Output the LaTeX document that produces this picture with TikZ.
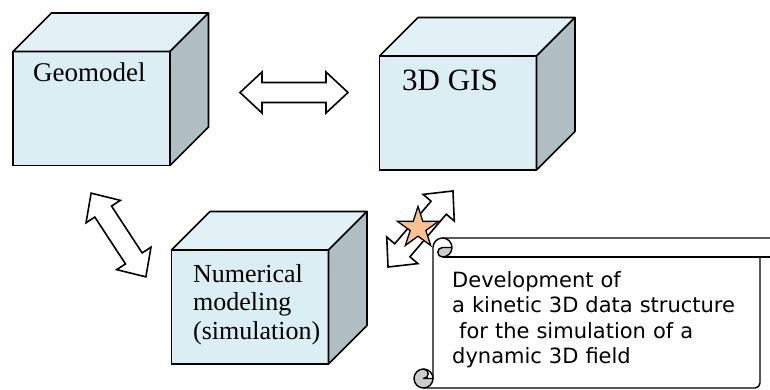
\documentclass[tikz,border=0pt]{standalone}
\usepackage{fontspec}
\setmainfont{Liberation Serif}
\newfontfamily\scrollfont{DejaVu Sans}
\definecolor{cubefront}{HTML}{DAEEF3}
\definecolor{cubetop}{HTML}{E2F1F6}
\definecolor{cubeside}{HTML}{AEBEC2}
\definecolor{curlgrey}{HTML}{CCCCCC}
\definecolor{starfill}{HTML}{FAC090}

% one box drawn as a cube: front face node plus top and side faces
\newcommand\drawcube[3]{%
  \node[cubeface] (#1) at (#2,#3) {};
  \filldraw[cubeedge, fill=cubetop] (#1.north west) -- ++(38.5,-38.5) -- ++(157,0) -- (#1.north east) -- cycle;
  \filldraw[cubeedge, fill=cubeside] (#1.north east) -- ++(38.5,-38.5) -- ++(0,114) -- (#1.south east) -- cycle;
}

\begin{document}
\begin{tikzpicture}[x=1pt, y=-1pt,
  cubeface/.style={draw, line width=1.6pt, fill=cubefront, minimum width=157pt,
    minimum height=114pt, inner sep=0pt, outer sep=0pt},
  cubeedge/.style={draw, line width=1.6pt, line join=round},
  cubetext/.style={anchor=base west, inner sep=0pt, text=black},
  blockarrow/.style={draw, fill=white, line width=1.6pt, line join=miter},
  scrollline/.style={draw, line width=1.4pt, line join=round},
  starstyle/.style={draw, fill=starfill, line width=1.3pt},
  pics/dblarrow/.style={code={%
    \path[blockarrow] (-#1/2,0) -- (-#1/2+22,20.5) -- (-#1/2+22,10) -- (#1/2-22,10)
      -- (#1/2-22,20.5) -- (#1/2,0) -- (#1/2-22,-20.5) -- (#1/2-22,-10)
      -- (-#1/2+22,-10) -- (-#1/2+22,-20.5) -- cycle;}}
]
\useasboundingbox (0,0) rectangle (770,390);
\clip (0,0) rectangle (770,390);

% the three cubes
\drawcube{geo}{91.5}{108.5}
\drawcube{gis}{458}{113}
\drawcube{num}{250}{307}

\node[cubetext, font=\fontsize{27}{29}\selectfont] (geotext) at (33,82) {Geomodel};
\node[cubetext, font=\fontsize{31}{33}\selectfont] (gistext) at (402,91) {3D GIS};
\node[cubetext, text width=130pt, align=left, font=\fontsize{26}{28.5}\selectfont]
  (numtext) at (193,282) {Numerical\\modeling\\(simulation)};

% double block arrows between the cubes
\pic at (294,92.5) {dblarrow=108};
\pic[rotate=-56.8] at (118.5,235) {dblarrow=100};
\pic[rotate=49.5] at (420.5,229) {dblarrow=100};

% scroll with the note
\fill[white] (423.5,388) arc[start angle=90, delta angle=-90, radius=9.5]
  -- (423.5,378.5) arc[start angle=90, delta angle=180, radius=4.75]
  -- (433,369) -- (433,247.5) arc[start angle=180, delta angle=90, radius=9.5]
  -- (775,238) -- (775,257) -- (760,257) -- (760,383)
  arc[start angle=0, delta angle=90, radius=5] -- cycle;
\fill[curlgrey] (452,247.5) arc[start angle=0, delta angle=90, radius=9.5]
  arc[start angle=90, delta angle=180, radius=4.75] -- cycle;
\fill[curlgrey] (433,378.5) arc[start angle=0, delta angle=270, radius=9.5]
  arc[start angle=270, delta angle=180, radius=4.75] -- cycle;
\path[scrollline] (433,378.5) -- (433,247.5)
  arc[start angle=180, delta angle=90, radius=9.5] -- (775,238);
\path[scrollline] (775,257) -- (442.5,257);
\path[scrollline] (442.5,238) arc[start angle=270, delta angle=180, radius=9.5]
  arc[start angle=90, delta angle=180, radius=4.75] -- (452,247.5);
\path[scrollline] (760,257) -- (760,383)
  arc[start angle=0, delta angle=90, radius=5] -- (423.5,388);
\path[scrollline] (423.5,378.5) circle[radius=9.5];
\path[scrollline] (423.5,369) arc[start angle=270, delta angle=180, radius=4.75] -- (433,378.5);

\node[anchor=base west, inner sep=0pt, text width=300pt, align=left,
  font=\scrollfont\fontsize{21}{25.5}\selectfont] (note) at (452,287)
  {Development of\\a kinetic 3D data structure\\\mbox{}\ for the simulation of a\\dynamic 3D field};

% star marker
\coordinate (starc) at (418,228);
\begin{scope}[shift={(starc)}]
  \path[starstyle] (-90:21.6) -- (-54:8.2) -- (-18:21.6) -- (18:8.2) -- (54:21.6)
    -- (90:8.2) -- (126:21.6) -- (162:8.2) -- (198:21.6) -- (234:8.2) -- cycle;
\end{scope}
\end{tikzpicture}
\end{document}
